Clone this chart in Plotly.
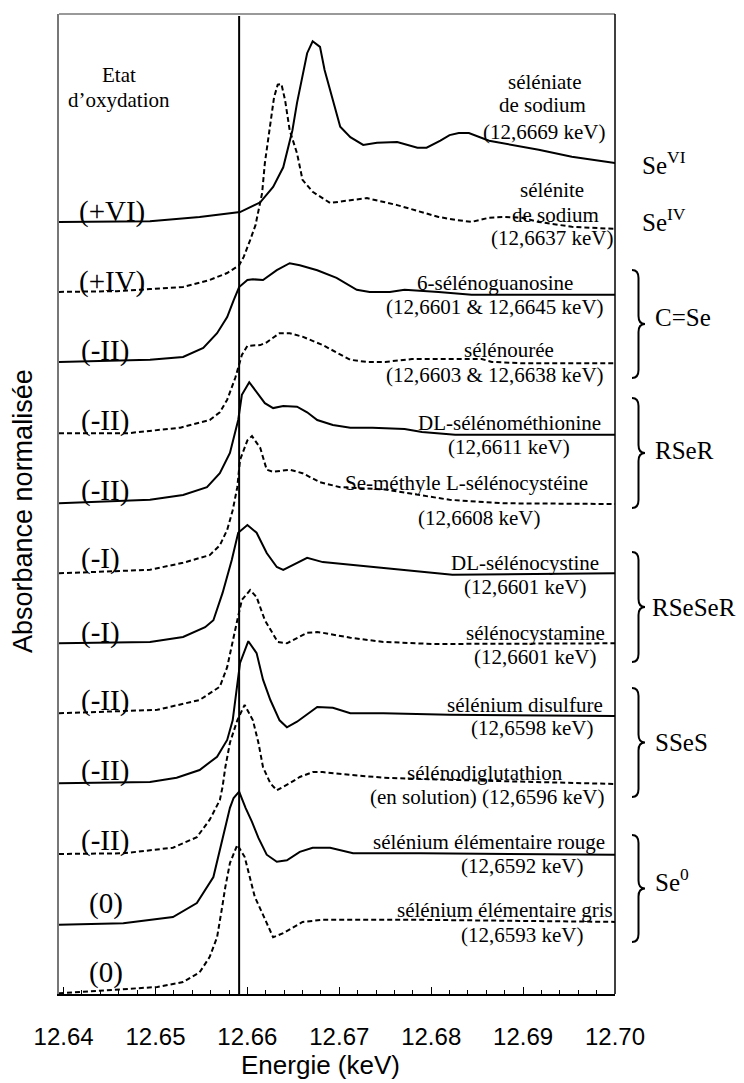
import plotly.graph_objects as go

# plot area in page pixels (used only to place texts and braces)
L, R, T, B = 59, 615, 14, 994
OFF = 8  # default body margin of the html page
FIG_W, FIG_H = 744 - OFF, 1083 - OFF


def px(x):
    return (x - L) / (R - L)


def py(y):
    return (B - y) / (B - T)


E_REF = 12.6591  # vertical reference line (keV)

# --- spectra: energy (keV) and stacked normalised absorbance ---
e_selenate = [12.6395, 12.6494, 12.6548, 12.6592, 12.6614, 12.6628, 12.6639, 12.6643, 12.6649, 12.6654,
              12.6659, 12.6665, 12.6671, 12.6679, 12.6684, 12.6692, 12.6701, 12.6712, 12.6726, 12.6741,
              12.6763, 12.6785, 12.6795, 12.6810, 12.6820, 12.6830, 12.6841, 12.6863, 12.6917, 12.6953, 12.7000]
a_selenate = [11.03, 11.04, 11.10, 11.17, 11.31, 11.53, 11.81, 12.01, 12.34, 12.73,
              13.06, 13.44, 13.61, 13.53, 13.20, 12.81, 12.39, 12.24, 12.13, 12.16,
              12.17, 12.09, 12.09, 12.19, 12.27, 12.30, 12.30, 12.19, 12.06, 11.96, 11.87]

e_selenite = [12.6395, 12.6458, 12.6494, 12.6530, 12.6559, 12.6578, 12.6591, 12.6596, 12.6603, 12.6609,
              12.6610, 12.6616, 12.6619, 12.6624, 12.6629, 12.6633, 12.6637, 12.6641, 12.6646, 12.6654,
              12.6660, 12.6671, 12.6690, 12.6712, 12.6730, 12.6763, 12.6790, 12.6808, 12.6826, 12.6844,
              12.6863, 12.6880, 12.6899, 12.6917, 12.6953, 12.7000]
a_selenite = [10.03, 10.04, 10.07, 10.10, 10.20, 10.30, 10.41, 10.53, 10.77, 10.99,
              11.06, 11.44, 11.87, 12.34, 12.81, 12.99, 13.00, 12.77, 12.34, 12.01,
              11.63, 11.46, 11.30, 11.34, 11.37, 11.27, 11.17, 11.10, 11.06, 11.03,
              11.09, 11.10, 11.09, 11.03, 10.96, 10.93]

e_guanosine = [12.6395, 12.6494, 12.6530, 12.6552, 12.6567, 12.6578, 12.6585, 12.6591, 12.6600, 12.6606,
               12.6617, 12.6632, 12.6646, 12.6657, 12.6676, 12.6697, 12.6719, 12.6733, 12.6755, 12.6771,
               12.6808, 12.6844, 12.7000]
a_guanosine = [9.03, 9.06, 9.10, 9.23, 9.44, 9.67, 9.91, 10.10, 10.20, 10.21,
               10.20, 10.34, 10.44, 10.41, 10.34, 10.23, 10.06, 10.03, 10.03, 10.06,
               10.03, 9.99, 9.99]

e_uree = [12.6395, 12.6469, 12.6527, 12.6559, 12.6570, 12.6578, 12.6587, 12.6591, 12.6594, 12.6600,
          12.6614, 12.6621, 12.6635, 12.6646, 12.6660, 12.6682, 12.6712, 12.6730, 12.6750, 12.6779,
          12.6855, 12.6866, 12.6899, 12.7000]
a_uree = [8.01, 8.01, 8.09, 8.20, 8.31, 8.49, 8.81, 9.01, 9.13, 9.26,
          9.27, 9.31, 9.44, 9.44, 9.39, 9.27, 9.06, 9.03, 9.03, 9.07,
          9.07, 9.03, 9.01, 9.01]

e_methionine = [12.6395, 12.6494, 12.6530, 12.6556, 12.6570, 12.6581, 12.6590, 12.6594, 12.6602, 12.6610,
                12.6619, 12.6628, 12.6639, 12.6654, 12.6665, 12.6676, 12.6693, 12.6712, 12.6736, 12.6771,
                12.6790, 12.6826, 12.7000]
a_methionine = [7.01, 7.06, 7.13, 7.24, 7.44, 7.73, 8.20, 8.56, 8.74, 8.59,
                8.44, 8.37, 8.40, 8.39, 8.31, 8.20, 8.13, 8.09, 8.09, 8.07,
                8.03, 7.99, 7.99]

e_methylcys = [12.6395, 12.6494, 12.6530, 12.6559, 12.6570, 12.6578, 12.6584, 12.6589, 12.6592, 12.6600,
               12.6605, 12.6614, 12.6621, 12.6628, 12.6646, 12.6660, 12.6679, 12.6701, 12.6748, 12.6785,
               12.6820, 12.6880, 12.7000]
a_methylcys = [6.01, 6.06, 6.16, 6.27, 6.41, 6.63, 6.91, 7.24, 7.63, 7.91,
               7.97, 7.80, 7.49, 7.46, 7.49, 7.44, 7.31, 7.24, 7.21, 7.13,
               7.06, 7.01, 7.00]

e_cystine = [12.6395, 12.6494, 12.6530, 12.6554, 12.6563, 12.6573, 12.6583, 12.6590, 12.6600, 12.6610,
             12.6621, 12.6632, 12.6639, 12.6650, 12.6665, 12.6682, 12.6712, 12.6748, 12.6823, 12.7000]
a_cystine = [5.01, 5.03, 5.10, 5.24, 5.34, 5.73, 6.20, 6.59, 6.70, 6.59,
             6.30, 6.10, 6.06, 6.13, 6.23, 6.17, 6.13, 6.09, 5.99, 6.01]

e_cystamine = [12.6395, 12.6502, 12.6548, 12.6570, 12.6578, 12.6584, 12.6589, 12.6594, 12.6603, 12.6610,
               12.6619, 12.6633, 12.6643, 12.6665, 12.6676, 12.6682, 12.6712, 12.6748, 12.6802, 12.7000]
a_cystamine = [4.01, 4.06, 4.20, 4.39, 4.67, 5.01, 5.34, 5.63, 5.77, 5.67,
               5.34, 5.03, 5.01, 5.16, 5.17, 5.16, 5.09, 5.03, 5.00, 5.01]

e_disulfure = [12.6395, 12.6494, 12.6523, 12.6548, 12.6567, 12.6578, 12.6584, 12.6589, 12.6592, 12.6601,
               12.6610, 12.6617, 12.6625, 12.6635, 12.6643, 12.6654, 12.6665, 12.6676, 12.6693, 12.6712,
               12.6748, 12.6820, 12.7000]
a_disulfure = [3.01, 3.03, 3.09, 3.20, 3.39, 3.63, 3.91, 4.39, 4.73, 5.04,
               4.87, 4.49, 4.20, 3.91, 3.81, 3.89, 3.99, 4.10, 4.09, 4.01,
               4.01, 3.99, 3.97]

e_glutathion = [12.6395, 12.6465, 12.6519, 12.6545, 12.6559, 12.6570, 12.6573, 12.6576, 12.6581, 12.6589,
                12.6597, 12.6606, 12.6612, 12.6617, 12.6625, 12.6632, 12.6646, 12.6657, 12.6671, 12.6682,
                12.6712, 12.6748, 12.6820, 12.7000]
a_glutathion = [2.00, 2.01, 2.09, 2.24, 2.49, 2.77, 2.96, 3.24, 3.59, 3.91,
                4.13, 3.91, 3.59, 3.24, 3.01, 2.91, 3.01, 3.10, 3.17, 3.17,
                3.13, 3.09, 3.06, 3.00]

e_rouge = [12.6395, 12.6465, 12.6519, 12.6545, 12.6563, 12.6570, 12.6576, 12.6581, 12.6585, 12.6591,
           12.6598, 12.6605, 12.6612, 12.6621, 12.6632, 12.6643, 12.6657, 12.6671, 12.6690, 12.6715,
           12.6788, 12.7000]
a_rouge = [0.99, 1.01, 1.10, 1.30, 1.67, 2.06, 2.41, 2.66, 2.80, 2.89,
           2.66, 2.46, 2.23, 1.99, 1.89, 1.91, 2.03, 2.09, 2.09, 2.01,
           2.01, 1.99]

e_gris = [12.6395, 12.6458, 12.6502, 12.6530, 12.6548, 12.6559, 12.6567, 12.6572, 12.6576, 12.6581,
          12.6589, 12.6597, 12.6603, 12.6608, 12.6616, 12.6625, 12.6628, 12.6639, 12.6650, 12.6660,
          12.6682, 12.6788, 12.7000]
a_gris = [0.01, 0.06, 0.10, 0.17, 0.31, 0.53, 0.81, 1.20, 1.53, 1.87,
          2.13, 1.96, 1.63, 1.39, 1.16, 0.91, 0.81, 0.87, 0.96, 1.03,
          1.06, 1.06, 1.03]

spectra = [
    (e_selenate, a_selenate, "solid"),
    (e_selenite, a_selenite, "dash"),
    (e_guanosine, a_guanosine, "solid"),
    (e_uree, a_uree, "dash"),
    (e_methionine, a_methionine, "solid"),
    (e_methylcys, a_methylcys, "dash"),
    (e_cystine, a_cystine, "solid"),
    (e_cystamine, a_cystamine, "dash"),
    (e_disulfure, a_disulfure, "solid"),
    (e_glutathion, a_glutathion, "dash"),
    (e_rouge, a_rouge, "solid"),
    (e_gris, a_gris, "dash"),
]

# --- texts ---
ox_states = ["(+VI)", "(+IV)", "(-II)", "(-II)", "(-II)", "(-I)",
             "(-I)", "(-II)", "(-II)", "(-II)", "(0)", "(0)"]
ox_pos = [(112, 212), (112, 282), (105, 350), (105, 420), (105, 490), (100, 558),
          (100, 632), (105, 700), (105, 770), (105, 840), (106, 903), (106, 972)]

names = [
    ("séléniate", 544, 82), ("de sodium", 542, 105), ("(12,6669 keV)", 544, 132),
    ("sélénite", 552, 190), ("de sodium", 555, 215), ("(12,6637 keV)", 552, 238),
    ("6-sélénoguanosine", 495, 283), ("(12,6601 & 12,6645 keV)", 495, 307),
    ("sélénourée", 509, 350), ("(12,6603 & 12,6638 keV)", 495, 375),
    ("DL-sélénométhionine", 509, 423), ("(12,6611 keV)", 509, 447),
    ("Se-méthyle L-sélénocystéine", 466, 483), ("(12,6608 keV)", 479, 518),
    ("DL-sélénocystine", 525, 563), ("(12,6601 keV)", 525, 587),
    ("sélénocystamine", 535, 633), ("(12,6601 keV)", 535, 657),
    ("sélénium disulfure", 525, 705), ("(12,6598 keV)", 532, 728),
    ("sélénodiglutathion", 485, 773), ("(en solution) (12,6596 keV)", 487, 797),
    ("sélénium élémentaire rouge", 489, 842), ("(12,6592 keV)", 522, 866),
    ("sélénium élémentaire gris", 505, 910), ("(12,6593 keV)", 522, 935),
]

groups = [("Se<sup>VI</sup>", 640, 163), ("Se<sup>IV</sup>", 640, 220), ("C=Se", 653, 318),
          ("RSeR", 653, 450), ("RSeSeR", 650, 607), ("SSeS", 653, 742), ("Se<sup>0</sup>", 653, 880)]
braces = [(270, 378), (398, 508), (552, 662), (688, 797), (835, 942)]

SERIF = "Liberation Serif"
SANS = "Liberation Sans"

fig = go.Figure()
for e, a, dash in spectra:
    fig.add_trace(go.Scatter(x=e, y=a, mode="lines", showlegend=False,
                             line=dict(color="black", width=2,
                                       dash="solid" if dash == "solid" else "5px,3px")))

ann = []
for t, (x, y) in zip(ox_states, ox_pos):
    ann.append(dict(text=t, x=px(x), y=py(y), font=dict(family=SERIF, size=29)))
for t, x, y in names:
    ann.append(dict(text=t, x=px(x), y=py(y), font=dict(family=SERIF, size=21)))
for t, x, y in groups:
    ann.append(dict(text=t, x=px(x), y=py(y), xanchor="left", font=dict(family=SERIF, size=25)))
ann.append(dict(text="Etat", x=px(119), y=py(75), font=dict(family=SERIF, size=21)))
ann.append(dict(text="d’oxydation", x=px(119), y=py(100), font=dict(family=SERIF, size=21)))
ann.append(dict(text="Energie (keV)", x=px(320), y=py(1065), font=dict(family=SANS, size=26)))
ann.append(dict(text="Absorbance normalisée", x=px(23), y=py(511), textangle=-90,
                font=dict(family=SANS, size=27)))
for a in ann:
    a.update(xref="paper", yref="paper", showarrow=False, yanchor="middle")
    a.setdefault("xanchor", "center")
    a["font"]["color"] = "black"

shapes = [dict(type="line", xref="x", yref="paper", x0=E_REF, x1=E_REF, y0=0, y1=0.998,
               line=dict(color="black", width=2)),
          dict(type="line", xref="paper", yref="paper", x0=0, x1=1, y0=1, y1=1,
               line=dict(color="#777777", width=1.5)),
          dict(type="line", xref="paper", yref="paper", x0=1, x1=1, y0=0, y1=1,
               line=dict(color="black", width=1.5))]
bx, bw, r = 632, 13, 8
for top, bot in braces:
    mid = (top + bot) / 2
    xm, xt = bx + bw / 2, bx + bw
    path = (f"M {px(bx)},{py(top)} Q {px(xm)},{py(top)} {px(xm)},{py(top + r)} "
            f"L {px(xm)},{py(mid - r)} Q {px(xm)},{py(mid)} {px(xt)},{py(mid)} "
            f"Q {px(xm)},{py(mid)} {px(xm)},{py(mid + r)} "
            f"L {px(xm)},{py(bot - r)} Q {px(xm)},{py(bot)} {px(bx)},{py(bot)}")
    shapes.append(dict(type="path", xref="paper", yref="paper", path=path,
                       line=dict(color="black", width=2)))

fig.update_layout(
    width=FIG_W, height=FIG_H,
    margin=dict(l=L - OFF, r=FIG_W - (R - OFF), t=T - OFF, b=FIG_H - (B - OFF)),
    plot_bgcolor="white", paper_bgcolor="white",
    annotations=ann, shapes=shapes,
    xaxis=dict(range=[12.6395, 12.7], showgrid=False, zeroline=False,
               showline=True, linecolor="black", linewidth=1.5,
               tickmode="linear", tick0=12.64, dtick=0.01, tickformat=".2f",
               ticks="inside", ticklen=7, tickcolor="black", tickwidth=1,
               ticklabelstandoff=20,
               tickfont=dict(family=SANS, size=24, color="black"),
               minor=dict(dtick=0.002, ticks="inside", ticklen=4, tickcolor="black")),
    yaxis=dict(range=[0, 14], showgrid=False, zeroline=False, showticklabels=False,
               showline=True, linecolor="#777777", linewidth=1.5),
)

fig.write_html("out.html")
